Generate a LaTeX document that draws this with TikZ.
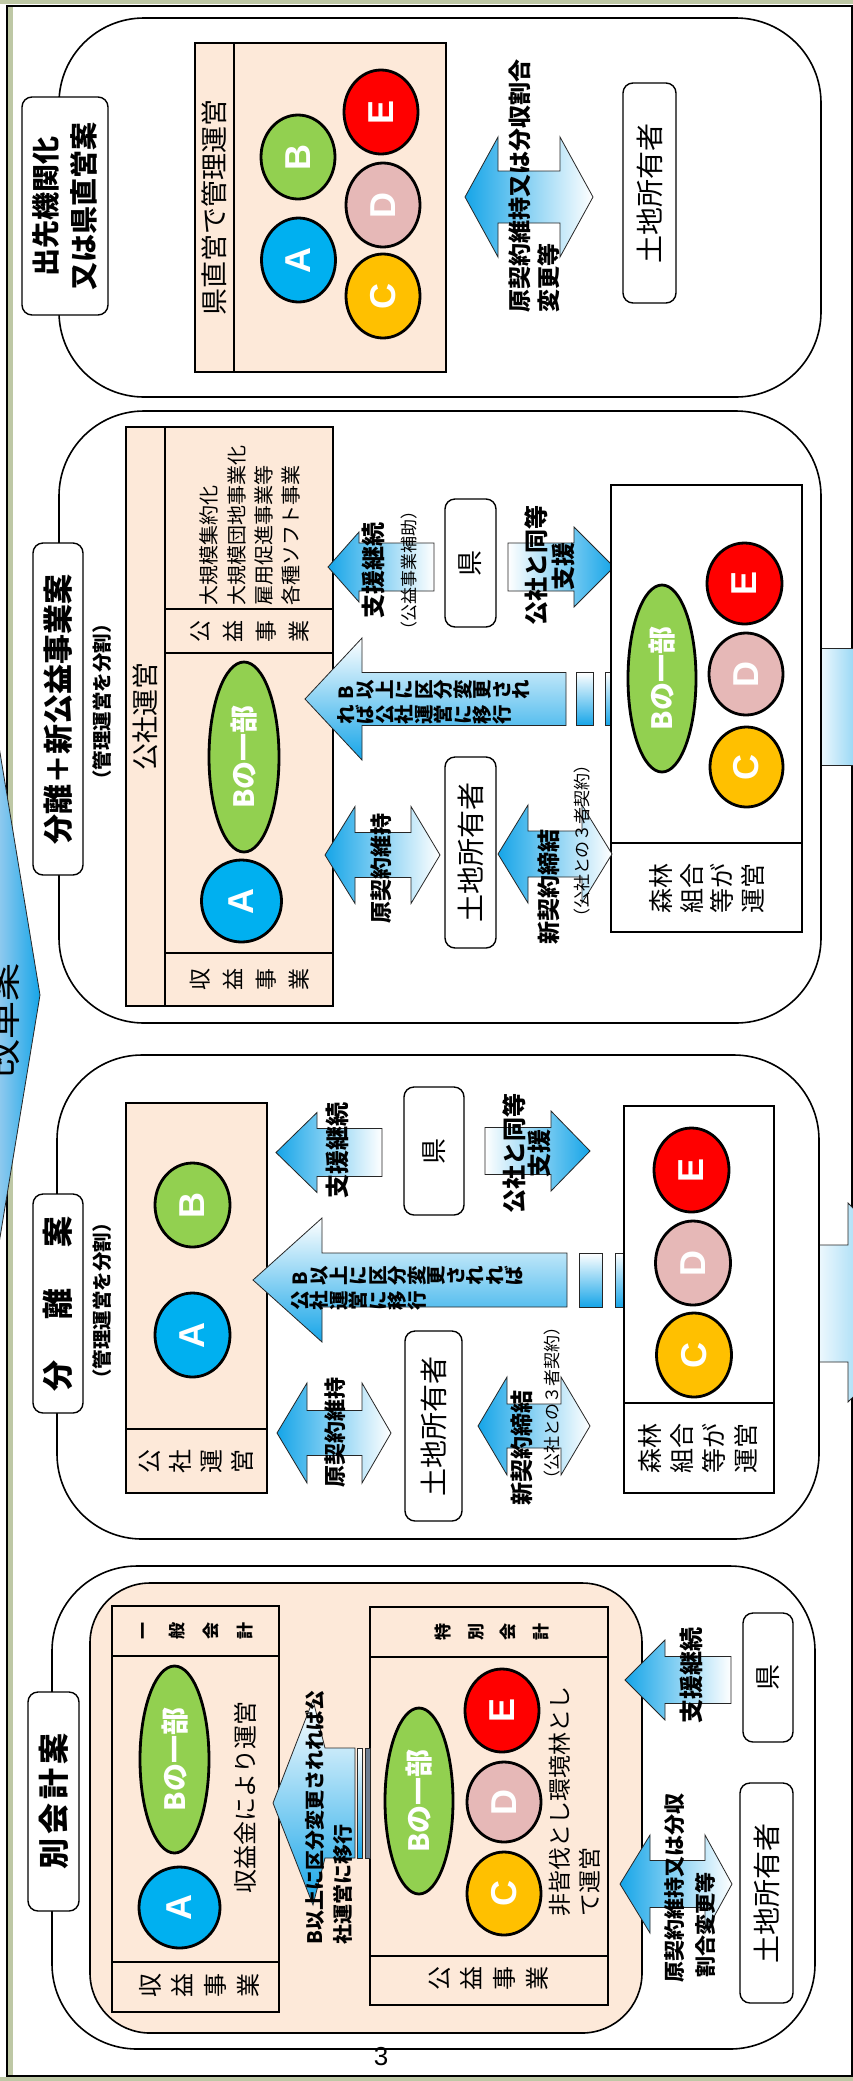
\documentclass[tikz,border=0pt]{standalone}
\usepackage{fontspec}
\setmainfont{Noto Sans CJK JP}
\newfontfamily\arial{Liberation Sans}
\usetikzlibrary{shapes.geometric}
\definecolor{pinkc}{RGB}{253,233,217}
\definecolor{ablue}{RGB}{22,165,232}
\definecolor{lblue}{RGB}{170,210,240}
\definecolor{cA}{RGB}{0,176,240}
\definecolor{cB}{RGB}{146,208,80}
\definecolor{cC}{RGB}{255,192,0}
\definecolor{cD}{RGB}{230,184,183}
\definecolor{cE}{RGB}{255,0,0}
\definecolor{olivec}{RGB}{190,200,165}
\definecolor{slatec}{RGB}{110,125,145}
\newcommand\fsz[2]{\fontsize{#1}{#2}\selectfont}
\newcommand\RotSeq[1]{\RotSeqI#1\relax}
\def\RotSeqI#1{\ifx\relax#1\else\rotatebox{90}{\rule[-0.12em]{0pt}{1em}#1}\expandafter\RotSeqI\fi}
\tikzset{
 panel/.style={draw, line width=1.6pt, rounded corners=85pt, fill=white},
 tbox/.style={draw, line width=1.4pt, rounded corners=10pt, fill=white},
 pinkbox/.style={draw, line width=1.6pt, fill=pinkc},
 wbox/.style={draw, line width=1.6pt, fill=white},
 circ/.style={ellipse, draw, line width=2.8pt, inner sep=0, text=white, font=\arial\bfseries\fsz{36}{40}},
 bell/.style={ellipse, draw, line width=2.8pt, inner sep=0, text=white, fill=cB, font=\bfseries\fsz{28}{30}},
 rt/.style={rotate=90, inner sep=0},
 arr/.style={draw=black!85, line width=0.8pt},
}
\newcommand\DArr[7]{\shadedraw[arr,left color=ablue,right color=white] (#1,#5) -- (#2,#5-#6) -- (#2,#5-#7) -- (#3,#5-#7) -- (#3,#5-#6) -- (#4,#5) -- (#3,#5+#6) -- (#3,#5+#7) -- (#2,#5+#7) -- (#2,#5+#6) -- cycle;}
\newcommand\LArr[6]{\shadedraw[arr,left color=ablue,right color=white] (#1,#4) -- (#2,#4-#5) -- (#2,#4-#6) -- (#3,#4-#6) -- (#3,#4+#6) -- (#2,#4+#6) -- (#2,#4+#5) -- cycle;}
\newcommand\RArr[6]{\shadedraw[arr,left color=white,right color=ablue] (#1,#4-#6) -- (#2,#4-#6) -- (#2,#4-#5) -- (#3,#4) -- (#2,#4+#5) -- (#2,#4+#6) -- (#1,#4+#6) -- cycle;}
\newcommand\BArr[6]{\shadedraw[arr,top color=white,bottom color=ablue] (#1,#2) -- (#4,#2-#3) -- (#4,#2-#5) -- (#6,#2-#5) -- (#6,#2+#5) -- (#4,#2+#5) -- (#4,#2+#3) -- cycle;}
\newcommand\Strp[4]{\shadedraw[arr,top color=white,bottom color=ablue] (#1,#3-#4) rectangle (#2,#3+#4);}
\begin{document}
\begin{tikzpicture}[x=1pt,y=-1pt]
\useasboundingbox (0,0) rectangle (853,2081);
\clip (0,0) rectangle (853,2081);
\fill[white] (0,0) rectangle (853,2081);
% frame
\fill[olivec] (0,0) rectangle (853,4);
\fill[olivec] (0,2077) rectangle (853,2081);
\fill[olivec] (8,6) rectangle (13,2075);
\draw[line width=2pt] (6.5,5.5) rectangle (851.5,2075.5);
% left big arrow
\shadedraw[arr,left color=lblue,right color=ablue] (-10,692) -- (40,995) -- (-10,1298) -- cycle;
\node[rt, font=\fsz{38}{40}] (kaikaku) at (2,1020) {改革案};
% right partial arrows
\shadedraw[arr,left color=white,right color=ablue!60] (813,648) rectangle (870,765);
\shadedraw[arr,left color=white,right color=ablue] (808,1245) -- (848,1245) -- (848,1203) -- (948,1303) -- (848,1402) -- (848,1362) -- (808,1362) -- cycle;

% ================= Panel 1
\draw[panel] (59,18) rectangle (821,397);
\node[tbox, rotate=90, minimum width=218pt, minimum height=86pt, align=center, font=\bfseries\fsz{28}{38}] (t1) at (65,206) {出先機関化\\又は県直営案};
\draw[pinkbox] (195,43) rectangle (446,372);
\draw[line width=1.6pt] (234,43) -- (234,372);
\node[rt, font=\fsz{27}{30}] (p1lab) at (214.5,207.5) {県直営で管理運営};
\node[circ, fill=cA, minimum width=74pt, minimum height=84pt] (A1) at (298.5,260) {\rotatebox{90}{A}};
\node[circ, fill=cB, minimum width=74pt, minimum height=84pt] (B1) at (298,157) {\rotatebox{90}{B}};
\node[circ, fill=cE, minimum width=74pt, minimum height=84pt] (E1) at (381,112) {\rotatebox{90}{E}};
\node[circ, fill=cD, minimum width=74pt, minimum height=84pt] (D1) at (383,205) {\rotatebox{90}{D}};
\node[circ, fill=cC, minimum width=74pt, minimum height=84pt] (C1) at (383,296) {\rotatebox{90}{C}};
\DArr{465}{498}{560}{593}{197}{60}{26}
\node[rt, anchor=west, font=\bfseries\fsz{23}{26}] (l1a) at (520,313) {原契約維持又は分収割合};
\node[rt, anchor=west, font=\bfseries\fsz{23}{26}] (l1b) at (549,313) {変更等};
\node[tbox, rotate=90, minimum width=220pt, minimum height=53pt, font=\fsz{28}{30}] (own1) at (649.5,193) {土地所有者};

% ================= Panel 2
\draw[panel] (59,411) rectangle (821,1023);
\node[tbox, rotate=90, minimum width=332pt, minimum height=50pt, font=\bfseries\fsz{30}{32}] (t2) at (58,709) {分離＋新公益事業案};
\node[rt, font=\bfseries\fsz{19.5}{22}] (s2) at (102,702) {（管理運営を分割）};
\draw[pinkbox] (126,427) rectangle (333,1006);
\draw[line width=1.6pt] (165,427) -- (165,1006) (165,609) -- (333,609) (165,653) -- (333,653) (165,953) -- (333,953);
\node[rt, font=\fsz{27}{30}] (p2lab) at (145.5,716) {公社運営};
\node[rt, anchor=west, font=\fsz{20}{22}] (li1) at (209,606) {大規模集約化};
\node[rt, anchor=west, font=\fsz{20}{22}] (li2) at (237,606) {大規模団地事業化};
\node[rt, anchor=west, font=\fsz{20}{22}] (li3) at (264,606) {雇用促進事業等};
\node[rt, anchor=west, font=\fsz{20}{22}] (li4) at (291,606) {各種ソフト事業};
\node[rt, align=center, font=\fsz{22}{33}] (c2a) at (250,631) {公\\益\\事\\業};
\node[rt, align=center, font=\fsz{22}{33}] (c2b) at (250,979) {収\\益\\事\\業};
\node[bell, minimum width=70pt, minimum height=190pt] (B2a) at (244,757) {\rotatebox{90}{Bの一部}};
\node[circ, fill=cA, minimum width=80pt, minimum height=82pt] (A2) at (241.5,901) {\rotatebox{90}{A}};
\BArr{305}{699}{61}{362}{26.5}{566}
\Strp{576}{593}{699}{26.5}
\Strp{605}{614}{699}{26.5}
\node[anchor=west, inner sep=0, font=\bfseries\fsz{19.5}{20}] (m2a) at (336,690) {\RotSeq{B以上に区分変更され}};
\node[anchor=west, inner sep=0, font=\bfseries\fsz{19.5}{20}] (m2b) at (336,715) {\RotSeq{れば公社運営に移行}};
\LArr{328}{359}{434}{567}{35}{24}
\node[rt, font=\bfseries\fsz{24}{26}] (sup2) at (373,570) {支援継続};
\node[rt, font=\fsz{17}{20}] (sup2b) at (409,570) {（公益事業補助）};
\node[tbox, rotate=90, minimum width=128pt, minimum height=51pt, font=\fsz{26}{28}] (ken2) at (470.5,563) {県};
\RArr{508}{574}{614}{567}{40}{24}
\node[rt, font=\bfseries\fsz{24}{26}] (eq2a) at (536,565) {公社と同等};
\node[rt, font=\bfseries\fsz{24}{26}] (eq2b) at (563,566) {支援};
\draw[wbox] (611,485) rectangle (802,932);
\draw[line width=1.6pt] (611,843) -- (802,843);
\node[rt, align=center, font=\fsz{25}{30.5}] (sh2) at (707,888) {森林\\組合\\等が\\運営};
\node[bell, minimum width=68pt, minimum height=187pt] (B2b) at (662,678.5) {\rotatebox{90}{Bの一部}};
\node[circ, fill=cE, minimum width=75pt, minimum height=81pt] (E2) at (744.5,583.5) {\rotatebox{90}{E}};
\node[circ, fill=cD, minimum width=74pt, minimum height=82pt] (D2) at (746,674) {\rotatebox{90}{D}};
\node[circ, fill=cC, minimum width=73pt, minimum height=80pt] (C2) at (746.5,767) {\rotatebox{90}{C}};
\DArr{325}{355}{411}{440}{855}{48.5}{22.5}
\node[rt, font=\bfseries\fsz{22}{24}] (gk2) at (381,868) {原契約維持};
\node[tbox, rotate=90, minimum width=191pt, minimum height=51pt, font=\fsz{28}{30}] (own2) at (470.5,852.5) {土地所有者};
\DArr{498}{528}{582}{612}{854}{49}{23}
\node[rt, font=\bfseries\fsz{23}{25}] (nk2) at (549,887) {新契約締結};
\node[rt, font=\fsz{17}{20}] (nk2b) at (582,841) {（公社との３者契約）};

% ================= Panel 3
\draw[panel] (57,1055) rectangle (819,1539);
\node[tbox, rotate=90, minimum width=219pt, minimum height=50pt, font=\bfseries\fsz{31}{33}] (t3) at (58,1303.5) {分\hspace{41pt}離\hspace{41pt}案};
\node[rt, font=\bfseries\fsz{19.5}{22}] (s3) at (102,1301) {（管理運営を分割）};
\draw[pinkbox] (126,1103) rectangle (267,1493);
\draw[line width=1.6pt] (126,1429) -- (267,1429);
\node[rt, align=center, font=\fsz{24}{31}] (c3) at (196.5,1461) {公\\社\\運\\営};
\node[circ, fill=cB, minimum width=75pt, minimum height=84pt] (B3) at (192.5,1205) {\rotatebox{90}{B}};
\node[circ, fill=cA, minimum width=75pt, minimum height=84pt] (A3) at (192.5,1335) {\rotatebox{90}{A}};
\LArr{276}{317}{382}{1152.5}{40}{24}
\node[rt, font=\bfseries\fsz{24}{26}] (sup3) at (337,1150) {支援継続};
\node[tbox, rotate=90, minimum width=128pt, minimum height=60pt, font=\fsz{26}{28}] (ken3) at (434,1151) {県};
\RArr{485}{551}{590}{1151}{40}{23.5}
\node[rt, font=\bfseries\fsz{24}{26}] (eq3a) at (514,1153) {公社と同等};
\node[rt, font=\bfseries\fsz{24}{26}] (eq3b) at (539,1153) {支援};
\BArr{253}{1280}{62}{322}{27}{567}
\Strp{579}{602}{1280}{27}
\Strp{615}{625}{1280}{27}
\node[anchor=west, inner sep=0, font=\bfseries\fsz{19.5}{20}] (m3a) at (290,1276) {\RotSeq{B以上に区分変更されれば}};
\node[anchor=west, inner sep=0, font=\bfseries\fsz{19.5}{20}] (m3b) at (290,1301) {\RotSeq{公社運営に移行}};
\draw[wbox] (624,1106) rectangle (774,1493);
\draw[line width=1.6pt] (624,1403) -- (774,1403);
\node[rt, align=center, font=\fsz{25}{31.7}] (sh3) at (698,1448) {森林\\組合\\等が\\運営};
\node[circ, fill=cE, minimum width=75pt, minimum height=84pt] (E3) at (691.5,1170) {\rotatebox{90}{E}};
\node[circ, fill=cD, minimum width=75pt, minimum height=84pt] (D3) at (693,1263) {\rotatebox{90}{D}};
\node[circ, fill=cC, minimum width=75pt, minimum height=84pt] (C3) at (694,1355) {\rotatebox{90}{C}};
\DArr{277}{307}{362}{391}{1433}{50}{22.5}
\node[rt, font=\bfseries\fsz{22}{24}] (gk3) at (335,1432) {原契約維持};
\node[tbox, rotate=90, minimum width=190pt, minimum height=57pt, font=\fsz{28}{30}] (own3) at (433.5,1426) {土地所有者};
\DArr{478}{507}{561}{590}{1426}{49}{22}
\node[rt, font=\bfseries\fsz{23}{25}] (nk3) at (522,1448) {新契約締結};
\node[rt, font=\fsz{17}{20}] (nk3b) at (552,1403) {（公社との３者契約）};

% ================= Panel 4
\draw[panel] (52,1566) rectangle (815,2049);
\node[tbox, rotate=90, minimum width=219pt, minimum height=51pt, font=\bfseries\fsz{31}{33}] (t4) at (53.5,1801.5) {別\hspace{4pt}会\hspace{4pt}計\hspace{4pt}案};
\draw[pinkbox, rounded corners=60pt] (90,1583) rectangle (642,2033);
\draw[pinkbox] (112,1606) rectangle (279,2012);
\draw[line width=1.6pt] (112,1656) -- (279,1656) (112,1962) -- (279,1962);
\node[rt, align=center, font=\bfseries\fsz{17}{34}] (h4a) at (197,1631) {一\\般\\会\\計};
\node[rt, align=center, font=\fsz{24}{32.7}] (c4a) at (199,1985) {収\\益\\事\\業};
\node[bell, minimum width=69pt, minimum height=187pt] (B4a) at (174.5,1759.5) {\rotatebox{90}{Bの一部}};
\node[circ, fill=cA, minimum width=81pt, minimum height=81pt] (A4) at (179.5,1907.5) {\rotatebox{90}{A}};
\node[rt, font=\fsz{24}{26}] (ig4) at (245,1797.5) {収益金により運営};
\draw[pinkbox] (370,1607) rectangle (608,2005);
\draw[line width=1.6pt] (370,1657) -- (608,1657) (370,1956) -- (608,1956);
\node[rt, align=center, font=\bfseries\fsz{17}{32.7}] (h4b) at (492,1632) {特\\別\\会\\計};
\node[rt, align=center, font=\fsz{24}{32.7}] (c4b) at (488.5,1978) {公\\益\\事\\業};
\node[bell, minimum width=68pt, minimum height=186pt] (B4b) at (419,1801) {\rotatebox{90}{Bの一部}};
\node[circ, fill=cE, minimum width=74pt, minimum height=83pt] (E4) at (502,1710.5) {\rotatebox{90}{E}};
\node[circ, fill=cD, minimum width=74pt, minimum height=80pt] (D4) at (504,1802) {\rotatebox{90}{D}};
\node[circ, fill=cC, minimum width=74pt, minimum height=83pt] (C4) at (504,1893.5) {\rotatebox{90}{C}};
\node[rt, anchor=west, font=\fsz{23}{26}] (hk4a) at (560,1917) {非皆伐とし環境林とし};
\node[rt, anchor=west, font=\fsz{23}{26}] (hk4b) at (590,1917) {て運営};
\shadedraw[arr, top color=white, bottom color=ablue] (273,1803) -- (313,1700) -- (325,1748) -- (355,1748) -- (355,1858) -- (325,1858) -- (313,1905) -- cycle;
\Strp{357}{362}{1803}{55}
\filldraw[fill=slatec, draw=black!85, line width=0.8pt] (365,1748) rectangle (370,1858);
\node[rt, anchor=west, font=\bfseries\fsz{20}{22}] (m4a) at (315,1945) {B以上に区分変更されれば公};
\node[rt, anchor=west, font=\bfseries\fsz{20}{22}] (m4b) at (343,1945) {社運営に移行};
\LArr{625}{665}{731}{1680}{40}{23.5}
\node[rt, font=\bfseries\fsz{24}{26}] (sup4) at (691,1675.5) {支援継続};
\node[tbox, rotate=90, minimum width=129pt, minimum height=50pt, font=\fsz{26}{28}] (ken4) at (768,1677.5) {県};
\DArr{620}{650}{705}{732}{1884}{49}{23.5}
\node[rt, anchor=west, font=\bfseries\fsz{21}{24}] (gk4a) at (675,1983) {原契約維持又は分収};
\node[rt, anchor=west, font=\bfseries\fsz{21}{24}] (gk4b) at (705,1978) {割合変更等};
\node[tbox, rotate=90, minimum width=220pt, minimum height=53pt, font=\fsz{28}{30}] (own4) at (766.5,1893) {土地所有者};
\node[font=\arial\fsz{26}{28}, inner sep=0] (pg) at (381,2057) {3};
\end{tikzpicture}
\end{document}
